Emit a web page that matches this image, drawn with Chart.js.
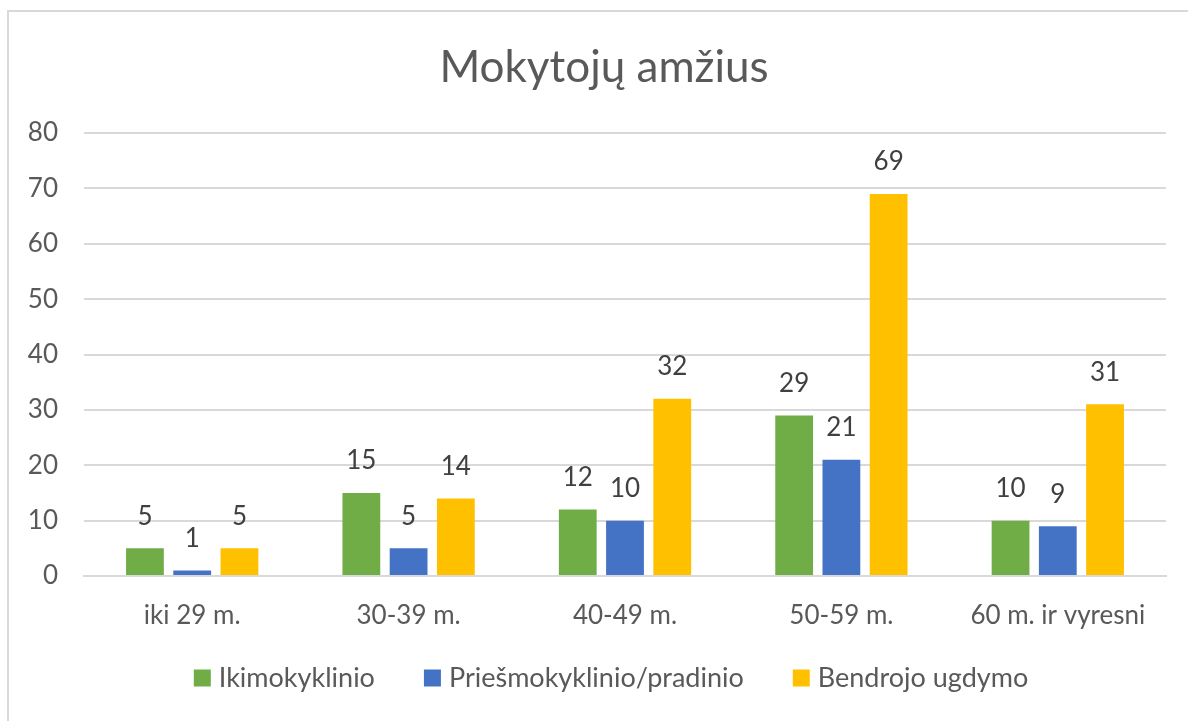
<!DOCTYPE html>
<html>
<head>
<meta charset="utf-8">
<script src="https://cdn.jsdelivr.net/npm/chart.js@4"></script>
<style>
  body { margin: 0; background: #fff; }
  #frame {
    position: absolute; left: 7px; top: 10px;
    width: 1220px; height: 760px;
    border: 2px solid #d9d9d9;
  }
  #myChart { position: absolute; left: 0; top: 0; }
</style>
</head>
<body>
<div id="frame"></div>
<canvas id="myChart" width="1188" height="721"></canvas>
<script>
const chartTitle = "Mokytojų amžius";
const categories = ["iki 29 m.", "30-39 m.", "40-49 m.", "50-59 m.", "60 m. ir vyresni"];
const ikimokyklinio = [5, 15, 12, 29, 10];
const priesmokyklinio = [1, 5, 10, 21, 9];
const bendrojo = [5, 14, 32, 69, 31];
const yTicks = [0, 10, 20, 30, 40, 50, 60, 70, 80];

const fontName = "Lato, 'Liberation Sans', sans-serif";

// value above every bar (no datalabels plugin offline)
const valueLabels = {
    id: 'valueLabels',
    afterDatasetsDraw(chart) {
        const ctx = chart.ctx;
        ctx.save();
        ctx.font = "26px " + fontName;
        ctx.fillStyle = "#404040";
        ctx.textAlign = "center";
        ctx.textBaseline = "middle";
        chart.data.datasets.forEach((ds, i) => {
            chart.getDatasetMeta(i).data.forEach((bar, j) => {
                ctx.fillText(ds.data[j], bar.x, bar.y - 32);
            });
        });
        ctx.restore();
    }
};

// title + legend drawn by hand so they sit where the excel chart put them
const titleAndLegend = {
    id: 'titleAndLegend',
    afterDraw(chart) {
        const ctx = chart.ctx;
        ctx.save();
        ctx.fillStyle = "#595959";
        ctx.textBaseline = "middle";
        ctx.textAlign = "center";
        ctx.font = "44px " + fontName;
        ctx.fillText(chartTitle, 604, 68);

        ctx.font = "27px " + fontName;
        ctx.textAlign = "left";
        const box = 17, gapText = 8, gapItem = 49;
        const items = chart.data.datasets.map(ds => ({
            text: ds.label,
            color: ds.backgroundColor,
            w: box + gapText + ctx.measureText(ds.label).width
        }));
        let total = items.reduce((s, it) => s + it.w, 0) + gapItem * (items.length - 1);
        let x = 611 - total / 2;
        const y = 678;
        items.forEach(it => {
            ctx.fillStyle = it.color;
            ctx.fillRect(x, y - box / 2, box, box);
            ctx.fillStyle = "#595959";
            ctx.fillText(it.text, x + box + gapText, y);
            x += it.w + gapItem;
        });
        ctx.restore();
    }
};

const ctx = document.getElementById('myChart').getContext('2d');

const data = {
    labels: categories,
    datasets: [{
        label: "Ikimokyklinio",
        data: ikimokyklinio,
        backgroundColor: "#70AD47"
    }, {
        label: "Priešmokyklinio/pradinio",
        data: priesmokyklinio,
        backgroundColor: "#4472C4"
    }, {
        label: "Bendrojo ugdymo",
        data: bendrojo,
        backgroundColor: "#FFC000"
    }]
};

const options = {
    responsive: false,
    animation: false,
    devicePixelRatio: 1,
    layout: { padding: { left: 0, right: 22, top: 133, bottom: 63 } },
    datasets: {
        bar: { categoryPercentage: 0.655, barPercentage: 0.8 }
    },
    plugins: {
        title: { display: false },
        legend: { display: false },
        tooltip: { enabled: false }
    },
    scales: {
        x: {
            grid: { display: false },
            border: { color: "#d9d9d9", width: 2 },
            ticks: {
                color: "#595959",
                font: { family: fontName, size: 26 },
                padding: 16
            },
            afterFit(scale) { scale.height = 82; }
        },
        y: {
            min: 0,
            max: 80,
            afterBuildTicks(scale) { scale.ticks = yTicks.map(v => ({ value: v })); },
            grid: { color: "#d9d9d9", lineWidth: 2, drawTicks: false },
            border: { display: false },
            ticks: {
                color: "#595959",
                font: { family: fontName, size: 26 },
                padding: 26
            },
            afterFit(scale) { scale.width = 84; }
        }
    }
};

let config = {
    type: 'bar',
    data: data,
    options: options,
    plugins: [valueLabels, titleAndLegend]
};

let graph = new Chart(ctx, config);
</script>
</body>
</html>
